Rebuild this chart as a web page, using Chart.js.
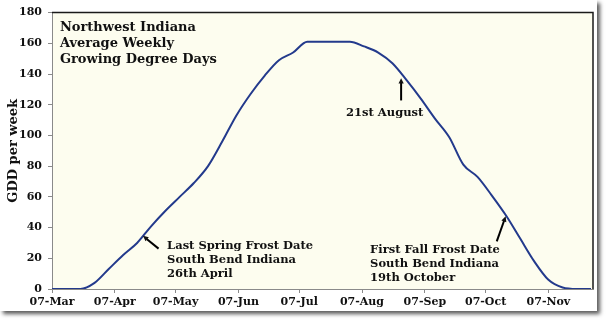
<!DOCTYPE html>
<html>
<head>
<meta charset="utf-8">
<script src="https://cdn.jsdelivr.net/npm/chart.js@4/dist/chart.umd.min.js"></script>
<style>
  body { margin: 0; background: #fff; }
  .frame {
    position: absolute; left: 0; top: 0;
    width: 597px; height: 311px;
    background: #fff;
    box-shadow: 3px 3px 4px rgba(0, 0, 0, 0.65);
  }
  canvas { display: block; }
</style>
</head>
<body>
<div class="frame"><canvas id="gdd" width="597" height="311"></canvas></div>
<script>
// days after 07-Mar, one point per week
const weekDays = [0, 7, 14, 21, 28, 35, 42, 49, 56, 63, 70, 77, 84, 91, 98, 105, 112, 119, 126,
  133, 140, 147, 154, 161, 168, 175, 182, 189, 196, 203, 210, 217, 224, 231, 238, 245, 252, 259, 266];
// average weekly GDD
const gddValues = [0, 0, 0, 4, 13, 22, 30, 41, 51, 60, 69, 80, 96, 113, 127, 139, 149, 154, 161,
  161, 161, 161, 158, 154, 147, 136, 124, 111, 99, 81, 73, 61, 48, 33, 18, 6, 1, 0, 0];

const tickDays = [0, 31, 61, 92, 122, 153, 184, 214, 245];
const tickLabels = ['07-Mar', '07-Apr', '07-May', '07-Jun', '07-Jul', '07-Aug', '07-Sep', '07-Oct', '07-Nov'];

const titleLines = ['Northwest Indiana', 'Average Weekly', 'Growing Degree Days'];
const springLines = ['Last Spring Frost Date', 'South Bend Indiana', '26th April'];
const augustLines = ['21st August'];
const fallLines = ['First Fall Frost Date', 'South Bend Indiana', '19th October'];

const SERIF = '"DejaVu Serif", "Liberation Serif", serif';

// text blocks and arrows, anchored in data units (day, GDD)
const notes = [
  { lines: titleLines, x: 3.9, y: 170, size: 13, gap: 16, align: 'left' },
  { lines: springLines, x: 56.8, y: 27.8, size: 11.5, gap: 14, align: 'left' },
  { lines: augustLines, x: 164.2, y: 114.3, size: 11.5, gap: 14, align: 'center' },
  { lines: fallLines, x: 157, y: 25.1, size: 11.5, gap: 14, align: 'left' }
];
const arrows = [
  { from: [52.6, 26.3], to: [44.9, 34.6] },
  { from: [172.3, 122.8], to: [172.3, 137.3] },
  { from: [219.5, 31], to: [223.9, 47.4] }
];

const plotDecor = {
  id: 'plotDecor',
  beforeDraw(chart) {
    const { ctx, chartArea: a } = chart;
    ctx.save();
    ctx.fillStyle = '#fdfdef';
    ctx.fillRect(a.left, a.top, a.right - a.left, a.bottom - a.top);
    ctx.restore();
  },
  afterDraw(chart) {
    const { ctx, chartArea: a, scales } = chart;
    const X = v => scales.x.getPixelForValue(v);
    const Y = v => scales.y.getPixelForValue(v);
    ctx.save();
    ctx.strokeStyle = '#1a1a1a';
    ctx.lineWidth = 1.5;
    ctx.beginPath();
    ctx.moveTo(a.left, a.top);
    ctx.lineTo(a.right, a.top);
    ctx.lineTo(a.right, a.bottom);
    ctx.stroke();

    ctx.fillStyle = '#111';
    ctx.textBaseline = 'middle';
    notes.forEach(n => {
      ctx.font = 'bold ' + n.size + 'px ' + SERIF;
      ctx.textAlign = n.align;
      n.lines.forEach((t, i) => ctx.fillText(t, X(n.x), Y(n.y) + i * n.gap));
    });

    ctx.strokeStyle = '#000';
    ctx.lineWidth = 2;
    arrows.forEach(ar => {
      const x1 = X(ar.from[0]), y1 = Y(ar.from[1]);
      const x2 = X(ar.to[0]), y2 = Y(ar.to[1]);
      const ang = Math.atan2(y2 - y1, x2 - x1);
      const head = 6;
      ctx.beginPath();
      ctx.moveTo(x1, y1);
      ctx.lineTo(x2 - Math.cos(ang) * head * 0.8, y2 - Math.sin(ang) * head * 0.8);
      ctx.stroke();
      ctx.beginPath();
      ctx.moveTo(x2, y2);
      ctx.lineTo(x2 - head * Math.cos(ang - 0.45), y2 - head * Math.sin(ang - 0.45));
      ctx.lineTo(x2 - head * Math.cos(ang + 0.45), y2 - head * Math.sin(ang + 0.45));
      ctx.closePath();
      ctx.fill();
    });
    ctx.restore();
  }
};

new Chart(document.getElementById('gdd'), {
  type: 'line',
  data: {
    datasets: [{
      data: weekDays.map((d, i) => ({ x: d, y: gddValues[i] })),
      borderColor: '#233a8c',
      borderWidth: 2,
      pointRadius: 0,
      fill: false,
      cubicInterpolationMode: 'monotone'
    }]
  },
  options: {
    responsive: false,
    animation: false,
    layout: { padding: { top: 7, right: 4, left: 0, bottom: 0 } },
    plugins: { legend: { display: false }, tooltip: { enabled: false } },
    scales: {
      x: {
        type: 'linear',
        min: 0,
        max: 267,
        afterBuildTicks: scale => { scale.ticks = tickDays.map(v => ({ value: v })); },
        afterFit: scale => { scale.height = 22; },
        grid: { drawOnChartArea: false, tickLength: 4, color: '#8a8a8a' },
        border: { color: '#8a8a8a', width: 1 },
        ticks: {
          autoSkip: false,
          maxRotation: 0,
          padding: 3,
          color: '#111',
          font: { family: SERIF, size: 11, weight: 'bold' },
          callback: v => tickLabels[tickDays.indexOf(v)]
        }
      },
      y: {
        min: 0,
        max: 180,
        afterFit: scale => { scale.width = 52; },
        grid: { drawOnChartArea: false, tickLength: 4, color: '#8a8a8a' },
        border: { color: '#8a8a8a', width: 1 },
        ticks: {
          stepSize: 20,
          padding: 6,
          color: '#111',
          font: { family: SERIF, size: 11, weight: 'bold' }
        },
        title: {
          display: true,
          text: 'GDD per week',
          color: '#111',
          padding: { top: 6, bottom: 0 },
          font: { family: SERIF, size: 13, weight: 'bold' }
        }
      }
    }
  },
  plugins: [plotDecor]
});
</script>
</body>
</html>
